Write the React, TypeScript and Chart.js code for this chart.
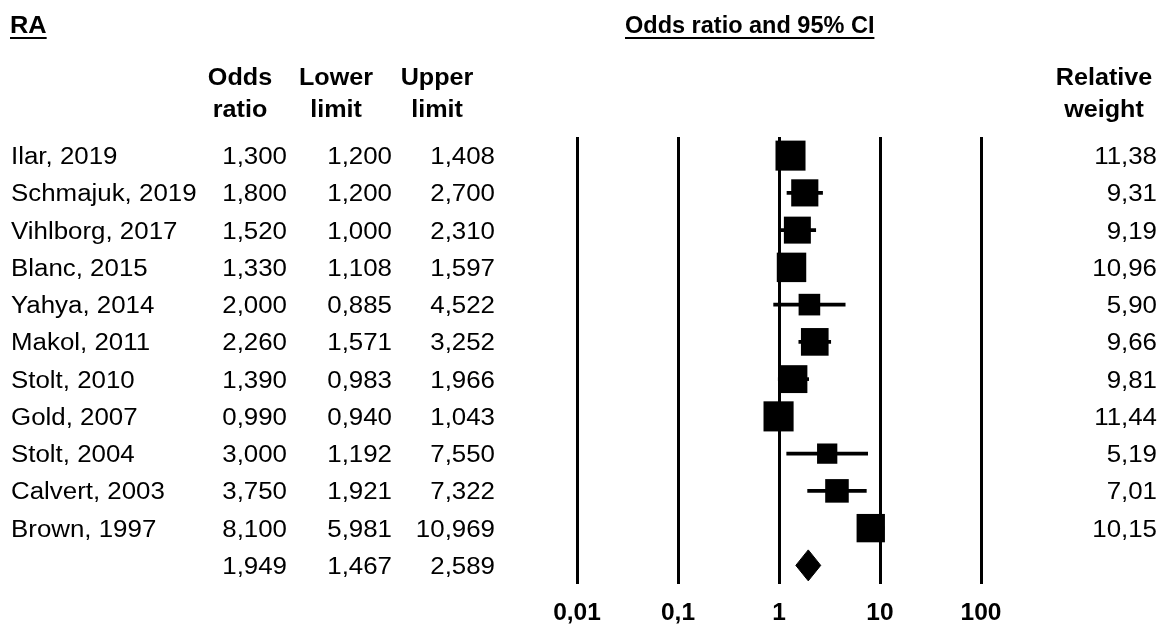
import React, { useEffect, useRef } from "react";
import { Chart, registerables } from "chart.js";

Chart.register(...registerables);

// ---------- data ----------
const panelTitle = "RA";
const plotTitle = "Odds ratio and 95% CI";
const studies = [
  "Ilar, 2019",
  "Schmajuk, 2019",
  "Vihlborg, 2017",
  "Blanc, 2015",
  "Yahya, 2014",
  "Makol, 2011",
  "Stolt, 2010",
  "Gold, 2007",
  "Stolt, 2004",
  "Calvert, 2003",
  "Brown, 1997",
];
const oddsRatio = [1.3, 1.8, 1.52, 1.33, 2.0, 2.26, 1.39, 0.99, 3.0, 3.75, 8.1];
const lowerLimit = [1.2, 1.2, 1.0, 1.108, 0.885, 1.571, 0.983, 0.94, 1.192, 1.921, 5.981];
const upperLimit = [1.408, 2.7, 2.31, 1.597, 4.522, 3.252, 1.966, 1.043, 7.55, 7.322, 10.969];
const relativeWeight = [11.38, 9.31, 9.19, 10.96, 5.9, 9.66, 9.81, 11.44, 5.19, 7.01, 10.15];
const summaryOdds = 1.949;
const summaryLower = 1.467;
const summaryUpper = 2.589;
const tickValues = [0.01, 0.1, 1, 10, 100];
const tickLabels = ["0,01", "0,1", "1", "10", "100"];
const headerOdds = ["Odds", "ratio"];
const headerLower = ["Lower", "limit"];
const headerUpper = ["Upper", "limit"];
const headerWeight = ["Relative", "weight"];

// ---------- style ----------
const FONT = '"Liberation Sans", Arial, Helvetica, sans-serif';
const SQUARE_SCALE = 8.9; // px side per sqrt(weight)
const DIAMOND_HALF = 0.416; // rows

const fmt = (v: number, d: number) => v.toFixed(d).replace(".", ",");

const tablePlugin = {
  id: "forestTable",
  afterDraw(chart: any) {
    const ctx = chart.ctx as CanvasRenderingContext2D;
    const ys = chart.scales.y;
    const text = (
      s: string,
      x: number,
      y: number,
      align: CanvasTextAlign,
      bold: boolean,
      size: number,
      sx: number
    ) => {
      ctx.save();
      ctx.fillStyle = "#000";
      ctx.font = `${bold ? "bold " : ""}${size}px ${FONT}`;
      ctx.textAlign = align;
      ctx.textBaseline = "alphabetic";
      ctx.translate(x, y);
      ctx.scale(sx, 1);
      ctx.fillText(s, 0, 0);
      const w = ctx.measureText(s).width * sx;
      ctx.restore();
      return w;
    };
    ctx.save();
    ctx.fillStyle = "#000";
    const w1 = text(panelTitle, 10, 33, "left", true, 23.5, 1.08);
    ctx.fillRect(10, 37, w1, 2);
    const w2 = text(plotTitle, 625, 33, "left", true, 23.5, 1.0);
    ctx.fillRect(625, 37, w2, 2);

    const hdr = (lines: string[], cx: number) => {
      text(lines[0], cx, 85, "center", true, 23.5, 1.07);
      text(lines[1], cx, 117, "center", true, 23.5, 1.07);
    };
    hdr(headerOdds, 240);
    hdr(headerLower, 336);
    hdr(headerUpper, 437);
    hdr(headerWeight, 1104);

    const RS = 23;
    const SX = 1.125;
    studies.forEach((s, i) => {
      const py = ys.getPixelForValue(i) + 8.5;
      text(s, 11, py, "left", false, RS, SX);
      text(fmt(oddsRatio[i], 3), 287, py, "right", false, RS, SX);
      text(fmt(lowerLimit[i], 3), 392, py, "right", false, RS, SX);
      text(fmt(upperLimit[i], 3), 495, py, "right", false, RS, SX);
      text(fmt(relativeWeight[i], 2), 1157, py, "right", false, RS, SX);
    });
    const sy = ys.getPixelForValue(studies.length) + 8.5;
    text(fmt(summaryOdds, 3), 287, sy, "right", false, RS, SX);
    text(fmt(summaryLower, 3), 392, sy, "right", false, RS, SX);
    text(fmt(summaryUpper, 3), 495, sy, "right", false, RS, SX);
    ctx.restore();
  },
};

export default function App() {
  const ref = useRef<HTMLCanvasElement | null>(null);
  useEffect(() => {
    document.body.style.margin = "0";
    const canvas = ref.current;
    if (!canvas) return;
    const n = studies.length;
    const chart = new Chart(canvas, {
      type: "scatter",
      data: {
        datasets: [
          {
            type: "scatter",
            order: 0,
            data: studies.map((_, i) => ({ x: oddsRatio[i], y: i })),
            pointStyle: "rect",
            pointRadius: relativeWeight.map((w) => (SQUARE_SCALE * Math.sqrt(w)) / Math.SQRT2),
            pointHoverRadius: relativeWeight.map((w) => (SQUARE_SCALE * Math.sqrt(w)) / Math.SQRT2),
            backgroundColor: "#000",
            borderColor: "#000",
            pointBorderWidth: 0,
          } as any,
          {
            type: "bar",
            order: 1,
            indexAxis: "y",
            data: studies.map((_, i) => ({ x: [lowerLimit[i], upperLimit[i]], y: i })),
            backgroundColor: "#000",
            borderWidth: 0,
            borderSkipped: false,
            barThickness: 3,
          } as any,
          {
            type: "line",
            order: 2,
            data: [
              { x: summaryLower, y: n },
              { x: summaryOdds, y: n - DIAMOND_HALF },
              { x: summaryUpper, y: n },
              { x: summaryOdds, y: n + DIAMOND_HALF },
              { x: summaryLower, y: n },
            ],
            borderColor: "#000",
            borderWidth: 1,
            backgroundColor: "#000",
            fill: "shape",
            pointRadius: 0,
            tension: 0,
          } as any,
        ],
      },
      options: {
        responsive: true,
        maintainAspectRatio: false,
        animation: false,
        events: [],
        layout: { padding: { left: 577, right: 182, top: 137, bottom: 0 } },
        plugins: {
          legend: { display: false },
          tooltip: { enabled: false },
          title: { display: false },
        },
        scales: {
          x: {
            type: "logarithmic",
            min: 0.01,
            max: 100,
            offset: false,
            afterBuildTicks: (s: any) => {
              s.ticks = tickValues.map((v) => ({ value: v }));
            },
            afterFit: (s: any) => {
              s.height = 42;
            },
            grid: { color: "#000", lineWidth: 3, drawTicks: false, offset: false },
            border: { display: false },
            ticks: {
              color: "#000",
              font: { family: FONT, size: 24.5, weight: "bold" },
              padding: 15,
              maxRotation: 0,
              autoSkip: false,
              callback: (_v: any, i: number) => tickLabels[i],
            },
          } as any,
          y: {
            type: "linear",
            display: false,
            min: -0.5,
            max: n + 0.5,
            reverse: true,
            offset: false,
          },
        },
      },
      plugins: [tablePlugin],
    });
    return () => chart.destroy();
  }, []);
  return (
    <div style={{ position: "absolute", left: 0, top: 0, width: 1163, height: 626, background: "#fff" }}>
      <canvas ref={ref} />
    </div>
  );
}
